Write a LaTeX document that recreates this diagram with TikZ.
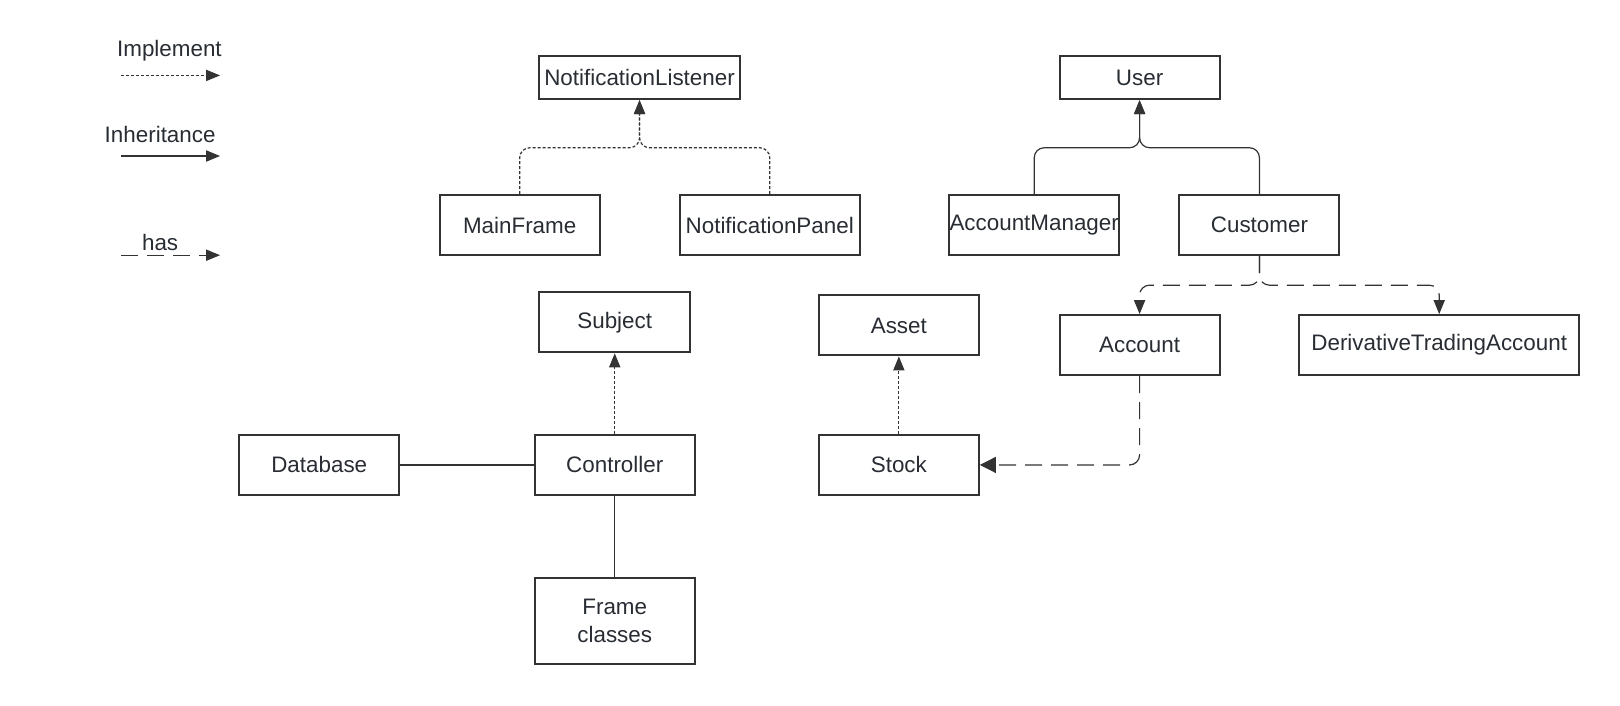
\documentclass[tikz,border=0pt]{standalone}
\usepackage{fontspec}
\setmainfont{Liberation Sans}
\usetikzlibrary{arrows.meta}
\definecolor{linec}{HTML}{333333}
\definecolor{textc}{HTML}{282C33}
\begin{document}
\begin{tikzpicture}[x=0.5166pt, y=-0.5166pt,
  every node/.style={text=textc, font=\fontsize{11.2}{13.8}\selectfont},
  cls/.style={draw=linec, line width=1pt, inner sep=0pt, minimum width=80pt, minimum height=30pt, align=center},
  link/.style={draw=linec, line width=0.6pt},
  tip/.style={-{Triangle[length=7pt, width=5.6pt]}},
  bigtip/.style={-{Triangle[length=8pt, width=8pt]}},
  impl/.style={link, tip, dash pattern=on 1.5pt off 1pt, rounded corners=5pt},
  inh/.style={link, tip, rounded corners=5pt},
  has/.style={link, tip, dash pattern=on 8.5pt off 4.5pt, rounded corners=5pt}]
\useasboundingbox (0,0) rectangle (1568,683);
% legend
\node (limpl) at (164,49) {Implement};
\coordinate (limplA) at (117,73);
\coordinate (limplB) at (213,73);
\draw[impl] (limplA) -- (limplB);
\node (linh) at (155,130) {Inheritance};
\coordinate (linhA) at (117,151);
\coordinate (linhB) at (213,151);
\draw[inh] (linhA) -- (linhB);
\node (lhas) at (155,235) {has};
\coordinate (lhasA) at (117,247);
\coordinate (lhasB) at (213,247);
\draw[has] (lhasA) -- (lhasB);
% classes
\node[cls, minimum width=100.2pt, minimum height=21.7pt] (nl) at (619,75) {NotificationListener};
\node[cls] (mf) at (503,218) {MainFrame};
\node[cls, minimum width=89.9pt] (np) at (745,218) {NotificationPanel};
\node[cls, minimum height=21.7pt] (user) at (1103,75) {User};
\node[cls, minimum width=85.2pt] (am) at (1001,218) {AccountManager};
\node[cls] (cust) at (1219,218) {Customer};
\node[cls, minimum width=75.4pt] (subj) at (595,312) {Subject};
\node[cls] (asset) at (870,315) {Asset};
\node[cls] (acc) at (1103,334) {Account};
\node[cls, minimum width=140pt] (dta) at (1393,334) {DerivativeTradingAccount};
\node[cls] (db) at (309,450) {Database};
\node[cls] (ctrl) at (595,450) {Controller};
\node[cls] (stock) at (870,450) {Stock};
\node[cls, minimum height=43.4pt] (frames) at (595,601) {Frame\\classes};
% joins
\coordinate (nljoin) at (619,143);
\coordinate (userjoin) at (1103,143);
\coordinate (custjoin) at (1219,276);
% connectors
\draw[impl] (mf.north) |- (nljoin) -- (nl.south);
\draw[impl] (np.north) |- (nljoin) -- (nl.south);
\draw[inh] (am.north) |- (userjoin) -- (user.south);
\draw[inh] (cust.north) |- (userjoin) -- (user.south);
\draw[has] (cust.south) -- (custjoin) -| (acc.north);
\draw[has] (cust.south) -- (custjoin) -| (dta.north);
\draw[impl] (ctrl.north) -- (subj.south);
\draw[link] (db.east) -- (ctrl.west);
\draw[link] (ctrl.south) -- (frames.north);
\draw[impl] (stock.north) -- (asset.south);
\draw[has, bigtip] (acc.south) |- (stock.east);
\end{tikzpicture}
\end{document}
